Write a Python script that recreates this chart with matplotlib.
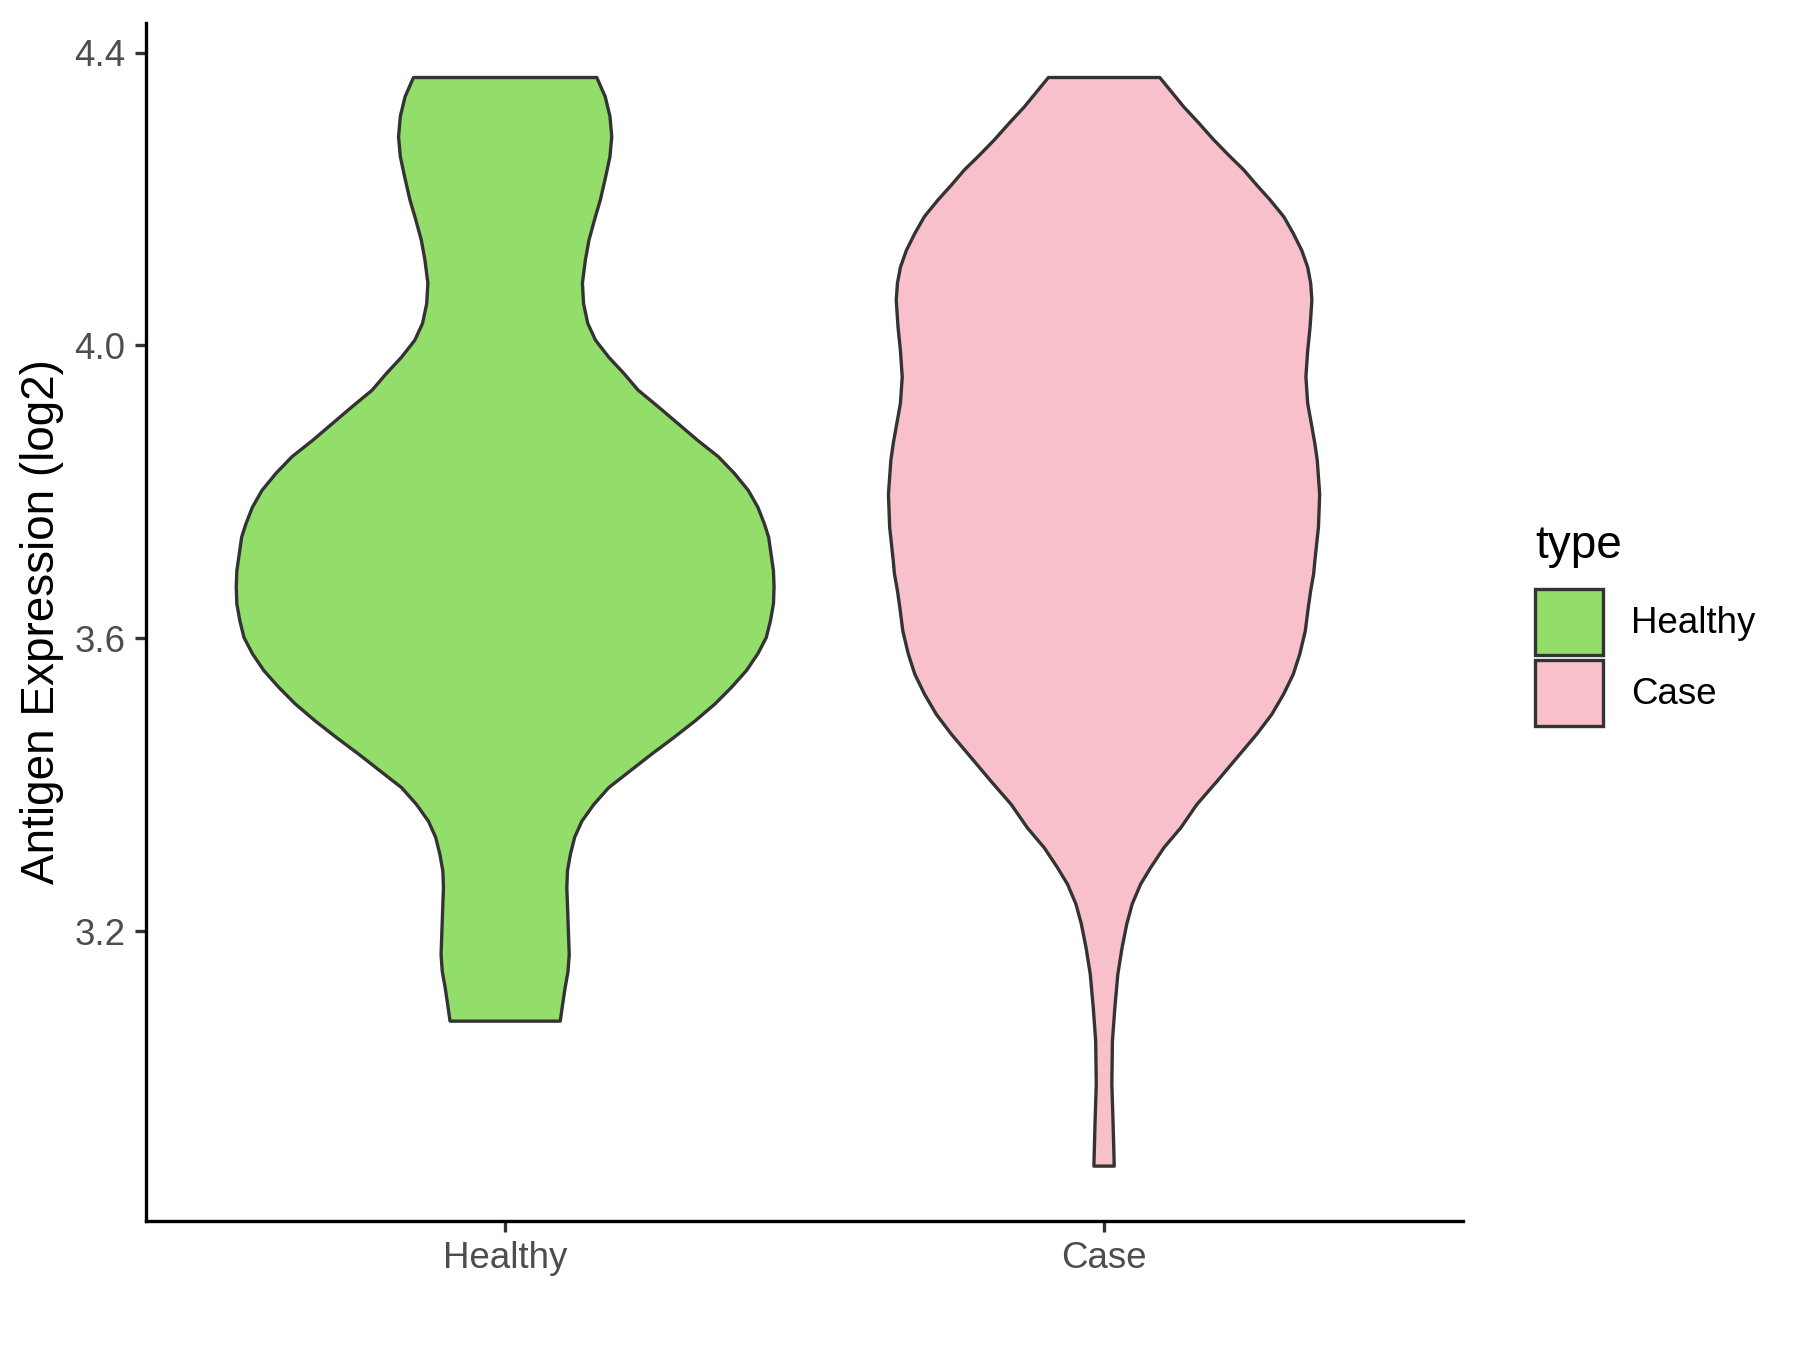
import numpy as np
import matplotlib
matplotlib.use('Agg')
import matplotlib.pyplot as plt
from matplotlib.patches import Patch

plt.rcParams['font.family'] = ['Liberation Sans', 'DejaVu Sans']

# groups and colours
groups = ['Healthy', 'Case']
fills = ['#93DD6B', '#F7C0CB']
edge = '#333333'

# violin outlines: expression value -> half width (x units)
healthy_y = [3.077, 3.100, 3.122, 3.145, 3.168, 3.191, 3.214, 3.237, 3.259, 3.282,
             3.305, 3.328, 3.350, 3.373, 3.396, 3.419, 3.442, 3.464, 3.487, 3.510,
             3.533, 3.556, 3.579, 3.601, 3.624, 3.647, 3.670, 3.692, 3.715, 3.738,
             3.756, 3.779, 3.802, 3.825, 3.848, 3.870, 3.893, 3.916, 3.939, 3.962,
             3.984, 4.007, 4.030, 4.057, 4.085, 4.117, 4.144, 4.171, 4.199, 4.231,
             4.258, 4.285, 4.313, 4.340, 4.366]
healthy_w = [0.092, 0.096, 0.100, 0.105, 0.107, 0.106, 0.105, 0.104, 0.103, 0.104,
             0.109, 0.116, 0.128, 0.148, 0.173, 0.209, 0.245, 0.281, 0.317, 0.350,
             0.378, 0.403, 0.422, 0.436, 0.443, 0.448, 0.449, 0.448, 0.444, 0.440,
             0.433, 0.422, 0.406, 0.383, 0.356, 0.322, 0.289, 0.256, 0.222, 0.198,
             0.173, 0.151, 0.138, 0.131, 0.129, 0.134, 0.140, 0.149, 0.159, 0.168,
             0.175, 0.178, 0.175, 0.167, 0.153]

case_y = [2.879, 2.940, 2.991, 3.050, 3.095, 3.141, 3.177, 3.210, 3.237, 3.264,
          3.287, 3.314, 3.341, 3.373, 3.405, 3.437, 3.469, 3.496, 3.524, 3.551,
          3.579, 3.610, 3.642, 3.665, 3.688, 3.706, 3.752, 3.797, 3.843, 3.866,
          3.889, 3.921, 3.957, 3.993, 4.025, 4.062, 4.085, 4.107, 4.130, 4.153,
          4.176, 4.199, 4.219, 4.240, 4.260, 4.281, 4.304, 4.326, 4.345, 4.366]
case_w = [0.017, 0.015, 0.013, 0.014, 0.018, 0.023, 0.030, 0.038, 0.047, 0.061,
          0.078, 0.100, 0.128, 0.155, 0.189, 0.222, 0.255, 0.280, 0.300, 0.316,
          0.327, 0.336, 0.341, 0.345, 0.350, 0.352, 0.358, 0.360, 0.356, 0.352,
          0.347, 0.340, 0.337, 0.340, 0.344, 0.347, 0.345, 0.340, 0.330, 0.316,
          0.300, 0.277, 0.255, 0.233, 0.208, 0.183, 0.158, 0.133, 0.114, 0.093]

outlines = [(healthy_y, healthy_w), (case_y, case_w)]

fig = plt.figure(figsize=(6, 4.5), dpi=300)
ax = fig.add_axes([0.081, 0.0959, 0.732, 0.887])

for i, (yy, ww) in enumerate(outlines):
    pos = i + 1
    yy = np.array(yy)
    ww = np.array(ww)
    xs = np.concatenate([pos + ww, (pos - ww)[::-1]])
    ys = np.concatenate([yy, yy[::-1]])
    ax.fill(xs, ys, facecolor=fills[i], edgecolor=edge, linewidth=0.8, joinstyle='round')

# scales like ggplot: 5% expansion on y, 0.6 on discrete x
lo = min(min(healthy_y), min(case_y))
hi = max(max(healthy_y), max(case_y))
pad = (hi - lo) * 0.05
ax.set_ylim(lo - pad, hi + pad)
ax.set_xlim(0.4, 2.6)

ax.set_xticks([1, 2])
ax.set_xticklabels(groups)
ax.set_yticks([3.2, 3.6, 4.0, 4.4])
ax.set_yticklabels(['3.2', '3.6', '4.0', '4.4'])
ax.tick_params(axis='both', length=2.75, width=0.8, color=edge,
               labelsize=8.8, labelcolor='#4D4D4D', pad=2.2)

for s in ['top', 'right']:
    ax.spines[s].set_visible(False)
for s in ['left', 'bottom']:
    ax.spines[s].set_linewidth(0.8)
    ax.spines[s].set_color('black')

ax.set_ylabel('Antigen Expression (log2)', fontsize=11, labelpad=2.5)

handles = [Patch(facecolor=fills[i], edgecolor=edge, linewidth=0.8, label=groups[i])
           for i in range(2)]
leg = fig.legend(handles=handles, title='type', loc='upper left',
                 bbox_to_anchor=(0.853, 0.612), frameon=False, fontsize=8.8,
                 title_fontsize=11, handlelength=1.85, handleheight=2.42,
                 labelspacing=0.12, handletextpad=0.75, borderpad=0,
                 borderaxespad=0, alignment='left')
leg._legend_box.sep = 5

fig.savefig('out.png', dpi=300)
